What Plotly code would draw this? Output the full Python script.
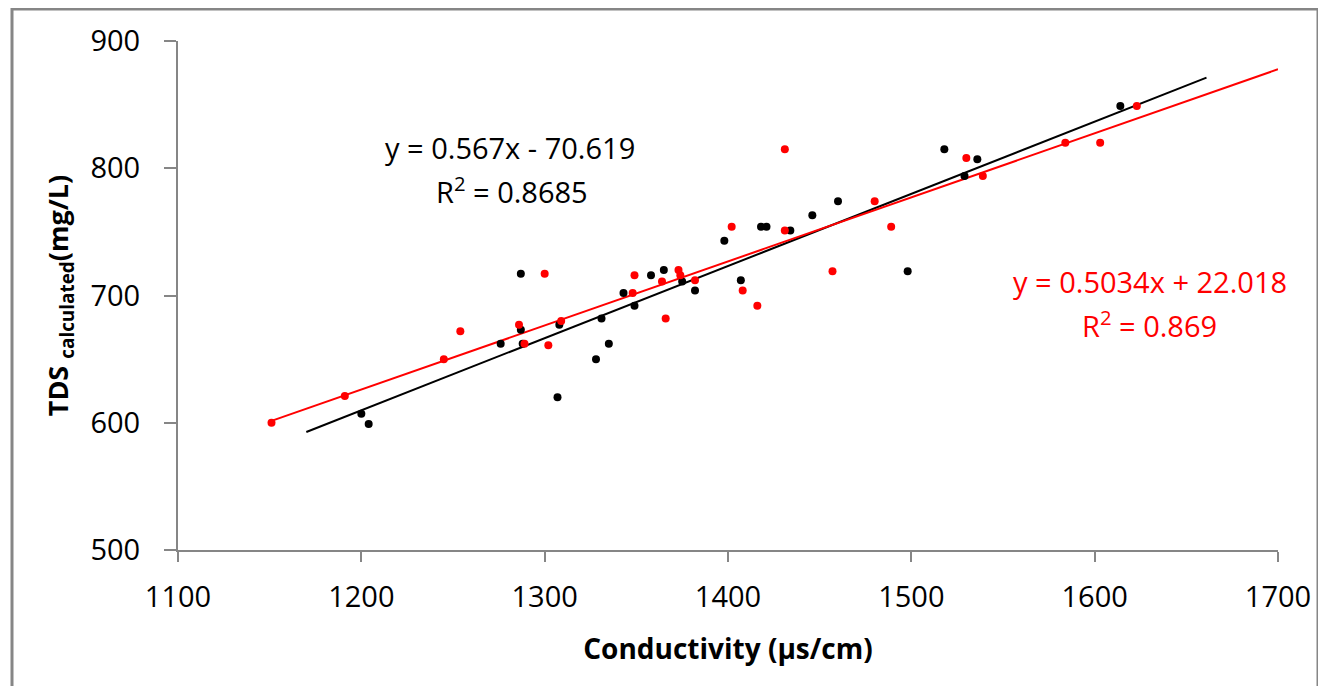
import plotly.graph_objects as go

# ---- data ----
black_x = [1200, 1204, 1276, 1287, 1287, 1288, 1307, 1308, 1328, 1331, 1335, 1343, 1349,
           1358, 1365, 1375, 1382, 1398, 1407, 1418, 1421, 1434, 1446, 1460, 1498, 1518,
           1529, 1536, 1614]
black_y = [607, 599, 662, 717, 673, 662, 620, 677, 650, 682, 662, 702, 692,
           716, 720, 711, 704, 743, 712, 754, 754, 751, 763, 774, 719, 815,
           794, 807, 849]

red_x = [1151, 1191, 1245, 1254, 1286, 1289, 1300, 1302, 1309, 1348, 1349, 1364, 1366,
         1373, 1374, 1382, 1402, 1408, 1416, 1431, 1431, 1457, 1480, 1489, 1530, 1539,
         1584, 1603, 1623]
red_y = [600, 621, 650, 672, 677, 662, 717, 661, 680, 702, 716, 711, 682,
         720, 716, 712, 754, 704, 692, 815, 751, 719, 774, 754, 808, 794,
         820, 820, 849]

# trendlines (coefficients as printed in the chart)
black_slope, black_icpt = 0.567, -70.619
red_slope, red_icpt = 0.5034, 22.018
black_line_x = [1170, 1661]
red_line_x = [1151, 1700]

black_eq = "y = 0.567x - 70.619"
black_r2 = "R<sup>2</sup> = 0.8685"
red_eq = "y = 0.5034x + 22.018"
red_r2 = "R<sup>2</sup> = 0.869"

x_ticks = [1100, 1200, 1300, 1400, 1500, 1600, 1700]
y_ticks = [500, 600, 700, 800, 900]

FONT = "Open Sans"
AX = "#868686"

fig = go.Figure()
fig.add_trace(go.Scatter(
    x=black_line_x, y=[black_slope * v + black_icpt for v in black_line_x],
    mode="lines", line=dict(color="black", width=2), showlegend=False, hoverinfo="skip"))
fig.add_trace(go.Scatter(
    x=red_line_x, y=[red_slope * v + red_icpt for v in red_line_x],
    mode="lines", line=dict(color="#FF0000", width=2), showlegend=False, hoverinfo="skip"))
fig.add_trace(go.Scatter(
    x=black_x, y=black_y, mode="markers",
    marker=dict(color="black", size=8, symbol="circle"), showlegend=False))
fig.add_trace(go.Scatter(
    x=red_x, y=red_y, mode="markers",
    marker=dict(color="#FF0000", size=8, symbol="circle"), showlegend=False))

# equation annotations
fig.add_annotation(x=1281, y=816, text=black_eq, showarrow=False,
                   font=dict(family=FONT, size=29, color="black"))
fig.add_annotation(x=1282, y=783, text=black_r2, showarrow=False,
                   font=dict(family=FONT, size=29, color="black"))
fig.add_annotation(x=1630, y=711, text=red_eq, showarrow=False,
                   font=dict(family=FONT, size=29, color="#FF0000"))
fig.add_annotation(x=1630, y=678, text=red_r2, showarrow=False,
                   font=dict(family=FONT, size=29, color="#FF0000"))

# outer chart border
fig.add_shape(type="rect", xref="paper", yref="paper",
              x0=(12 - 178) / 1100, x1=(1318 - 178) / 1100,
              y0=(550 - 700) / 509, y1=(550 - 9) / 509,
              line=dict(color=AX, width=3), fillcolor="rgba(0,0,0,0)", layer="below")

fig.update_layout(
    width=1318, height=678,
    margin=dict(l=170, r=48, t=33, b=136),
    paper_bgcolor="white", plot_bgcolor="white",
    font=dict(family=FONT, color="black"),
    xaxis=dict(
        range=[1100, 1700], tickvals=x_ticks, ticktext=[str(v) for v in x_ticks],
        showgrid=False, zeroline=False, showline=True, linecolor=AX, linewidth=2,
        ticks="outside", ticklen=10, tickwidth=2, tickcolor=AX,
        tickfont=dict(family=FONT, size=29, color="black"), ticklabelstandoff=10,
        title=dict(text="<b>Conductivity (µs/cm)</b>", standoff=26,
                   font=dict(family=FONT, size=28, color="black")),
    ),
    yaxis=dict(
        range=[500, 900], tickvals=y_ticks, ticktext=[str(v) for v in y_ticks],
        showgrid=False, zeroline=False, showline=True, linecolor=AX, linewidth=2,
        ticks="outside", ticklen=12, tickwidth=2, tickcolor=AX,
        tickfont=dict(family=FONT, size=29, color="black"), ticklabelstandoff=18,
        title=dict(text="<b>TDS <sub>calculated</sub>(mg/L)</b>", standoff=14,
                   font=dict(family=FONT, size=27, color="black")),
    ),
)

fig.write_html("out.html")
